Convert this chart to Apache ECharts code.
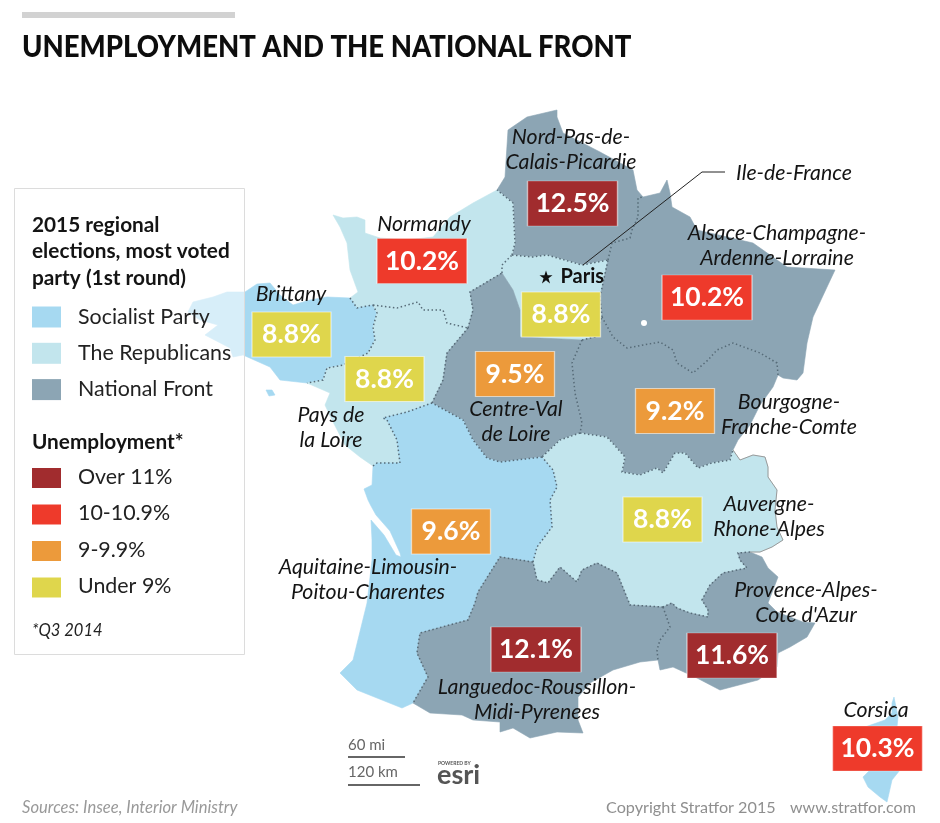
<!DOCTYPE html>
<html><head><meta charset="utf-8">
<style>html,body{margin:0;padding:0;background:#fff}#c{width:940px;height:823px}</style>
<script src="https://cdn.jsdelivr.net/npm/echarts@6/dist/echarts.min.js"></script>
</head><body><div id="c"></div>
<script>
// ---- data ----
const chartTitle = 'UNEMPLOYMENT AND THE NATIONAL FRONT';
const regionNames = ['Nord-Pas-de-Calais-Picardie','Normandy','Brittany','Pays de la Loire','Ile-de-France','Centre-Val de Loire','Alsace-Champagne-Ardenne-Lorraine','Bourgogne-Franche-Comte','Auvergne-Rhone-Alpes','Aquitaine-Limousin-Poitou-Charentes','Languedoc-Roussillon-Midi-Pyrenees','Provence-Alpes-Cote d\'Azur','Corsica'];
const unemployment = [12.5,10.2,8.8,8.8,8.8,9.5,10.2,9.2,8.8,9.6,12.1,11.6,10.3];
const winningParty = ['National Front','The Republicans','Socialist Party','The Republicans','The Republicans','National Front','National Front','National Front','The Republicans','Socialist Party','National Front','National Front','Socialist Party'];
const partyNames = ['Socialist Party','The Republicans','National Front'];
const partyColors = ['#a6d9f1','#c2e5ed','#8ca5b4'];
const bandNames = ['Over 11%','10-10.9%','9-9.9%','Under 9%'];
const bandColors = ['#a12c2e','#ee3a2b','#ec9a3b','#dfd64c'];
const regionLabelLines = ['Nord-Pas-de-\nCalais-Picardie','Normandy','Brittany','Pays de\nla Loire','Ile-de-France','Centre-Val\nde Loire','Alsace-Champagne-\nArdenne-Lorraine','Bourgogne-\nFranche-Comte','Auvergne-\nRhone-Alpes','Aquitaine-Limousin-\nPoitou-Charentes','Languedoc-Roussillon-\nMidi-Pyrenees','Provence-Alpes-\nCote d\'Azur','Corsica'];

// ---- map geometry (map-plane coordinates) ----
const rev = a => a.slice().reverse();
const normCoast=[[497,190],[473,203],[450,217],[433,237],[407,240],[380,238],[365,233],[365,220],[357,217],[343,218],[333,215],[340,227],[347,243],[350,270],[358,292],[350,298]];
const britNorm=[[350,298],[357,308],[373,305]];
const normPdl=[[373,305],[397,308],[418,302],[423,310],[443,310],[447,323],[468,328]];
const normCentre=[[468,328],[473,310],[470,292],[502,273]];
const normIdf=[[502,273],[502,265],[512,255]];
const normNord=[[512,255],[515,243],[513,203],[497,190]];
const britPdl=[[373,305],[377,313],[373,327],[375,340],[368,353],[343,365],[327,368],[323,380],[307,383]];
const britCoast=[[307,383],[280,380],[270,367],[243,355],[233,357],[230,348],[205,335],[218,325],[200,320],[188,312],[193,302],[213,297],[227,292],[245,292],[257,284],[270,283],[280,295],[293,305],[310,300],[327,297],[350,298]];
const belleIle=[[266,390],[272,390],[275,395],[269,396]];
const nordIdf=[[512,255],[533,257],[547,255],[582,265],[608,260]];
const nordAlsace=[[608,260],[612,243],[630,238],[632,230],[638,217],[638,198],[643,197]];
const nordCoast=[[643,197],[637,190],[633,170],[600,152],[563,133],[557,117],[557,110],[527,117],[508,130],[505,177],[497,190]];
const alsaceCoast=[[643,197],[660,193],[667,180],[670,193],[672,207],[690,217],[697,230],[753,243],[787,267],[835,270],[827,287],[813,317],[807,343],[803,373],[797,380],[783,378],[778,375]];
const alsaceBourg=[[778,375],[777,363],[760,353],[733,343],[717,350],[708,360],[693,373],[677,363],[673,350],[660,342],[627,348],[613,337],[602,317]];
const alsaceIdf=[[602,317],[600,297],[608,260]];
const idfCentre=[[502,273],[513,290],[520,310],[520,337],[582,340]];
const idfBourg=[[582,340],[595,337],[602,317]];
const centreBourg=[[582,340],[572,363],[575,393],[582,423],[580,433]];
const centreAuv=[[580,433],[560,440],[542,457]];
const centreAq=[[542,457],[500,462],[487,458],[473,440],[463,420],[432,403]];
const centrePdl=[[432,403],[443,380],[447,353],[468,328]];
const bourgAuv=[[580,433],[607,437],[625,457],[622,472],[640,475],[657,468],[663,473],[675,453],[685,453],[698,468],[712,463],[730,460],[733,450]];
const bourgCoast=[[733,450],[738,440],[750,425],[760,405],[773,387],[778,375]];
const auvCoast=[[733,450],[740,460],[753,455],[765,457],[768,467],[768,477],[777,490],[775,510],[777,527],[783,540],[772,547],[760,552],[750,552]];
const auvPaca=[[750,552],[738,553],[740,560],[747,568],[723,573],[710,585],[702,600],[708,610],[708,617],[690,613],[677,608],[672,603],[663,607]];
const auvLang=[[663,607],[630,605],[617,573],[597,563],[582,570],[577,582],[560,567],[548,583],[537,580],[533,562]];
const auvAq=[[533,562],[537,547],[552,527],[550,500],[557,487],[553,470],[542,457]];
const langAq=[[533,562],[500,557],[478,592],[475,603],[468,620],[420,633],[417,653],[428,677],[413,703]];
const langPaca=[[663,607],[670,627],[660,640],[657,650],[658,660]];
const langCoast=[[658,660],[640,662],[613,670],[590,683],[578,697],[578,720],[583,733],[557,732],[530,738],[513,728],[500,732],[500,722],[473,720],[462,715],[430,713],[413,703]];
const pacaCoast=[[750,552],[762,557],[768,568],[778,577],[768,603],[777,612],[803,622],[815,623],[807,637],[790,647],[778,653],[777,667],[758,680],[720,690],[697,678],[673,667],[660,670],[658,660]];
const aqPdl=[[373,466],[377,463],[400,463],[397,440],[387,420],[383,418],[407,412],[432,403]];
const aqCoast=[[413,703],[402,708],[357,690],[340,673],[353,660],[367,603],[372,560],[372,540],[371,520],[384,535],[396,555],[401,557],[400,553],[390,531],[376,515],[371,506],[368,500],[364,489],[372,485],[373,466]];
const pdlCoast=[[373,466],[360,457],[345,445],[332,420],[325,405],[330,393],[307,383]];
const corsicaOutline=[[894,697],[898,717],[897,727],[900,770],[892,780],[887,802],[880,797],[868,787],[863,777],[870,770],[865,727],[885,720],[892,713],[892,703]];
const ring = (...parts) => { const r = [].concat(...parts); r.push(r[0]); return r; };
const regionRings = [
  [ring(nordCoast,rev(normNord),nordIdf,nordAlsace)],
  [ring(normCoast,britNorm,normPdl,normCentre,normIdf,normNord)],
  [ring(britCoast,britNorm,britPdl)],
  [ring(normPdl,rev(centrePdl),rev(aqPdl),pdlCoast,rev(britPdl))],
  [ring(normIdf,nordIdf,rev(alsaceIdf),rev(idfBourg),rev(idfCentre))],
  [ring(normCentre,idfCentre,centreBourg,centreAuv,centreAq,centrePdl)],
  [ring(alsaceCoast,alsaceBourg,alsaceIdf,rev(nordAlsace))],
  [ring(centreBourg,bourgAuv,bourgCoast,alsaceBourg,rev(idfBourg))],
  [ring(rev(bourgAuv),centreAuv,rev(auvAq),rev(auvLang),rev(auvPaca),rev(auvCoast))],
  [ring(rev(centreAq),rev(auvAq),langAq,aqCoast,aqPdl)],
  [ring(rev(auvLang),langPaca,langCoast,rev(langAq))],
  [ring(pacaCoast,rev(langPaca),rev(auvPaca))],
  [ring(corsicaOutline)]
];
const innerBorders = [britNorm,normPdl,normCentre,normIdf,britPdl,nordIdf,nordAlsace,alsaceBourg,alsaceIdf,idfBourg,centreBourg,centrePdl,aqPdl,centreAq,centreAuv,bourgAuv,auvAq,auvLang,auvPaca,langAq,langPaca,normNord];
const coastlines = [auvCoast];
// label anchors on the map plane
const boxAnchors = [[572.5,203.5],[422,261],[291.5,334.5],[384.5,379],[561,314.5],[515,374],[707,297.5],[675,411],[662.5,519.5],[451,531.5],[536,649.5],[732,655.5],[877.5,748.5]];
const labelAnchors = [[571,150],[424,224],[291,294],[331,428],[794,173],[516,422],[777,246],[789,415],[769,517],[368,580],[537,700],[806,603],[876,710]];
const leaderLine = [[583,265],[702,172],[725,172]];
const paris = [546,277];
const lakeDer = [644,323];

const bandOf = v => v >= 11 ? 0 : v >= 10 ? 1 : v >= 9 ? 2 : 3;
const FONT = 'Lato, "Open Sans", sans-serif';
const INK = '#141414';

echarts.registerMap('france', {
  type:'FeatureCollection',
  features: regionNames.map((n,i)=>({type:'Feature',properties:{name:n},
    geometry:{type:'Polygon',coordinates:regionRings[i]}}))
    .concat([{type:'Feature',properties:{name:'Belle-Ile'},geometry:{type:'Polygon',coordinates:[ring(belleIle)]}}])
});

// legend graphics
const g = [];
g.push({type:'rect',z:1,shape:{x:14.5,y:188.5,width:230,height:466},style:{fill:'rgba(255,255,255,0.55)',stroke:'#dcdcdc',lineWidth:1}});
g.push({type:'rect',z:5,shape:{x:22,y:12,width:213,height:6},style:{fill:'#d2d2d2'}});
const txt=(x,y,t,o={},extra={})=>g.push(Object.assign({type:'text',z:5,x,y,style:Object.assign({text:t,fill:INK,font:'21.4px '+FONT,textVerticalAlign:'middle',textBaseline:'middle'},o)},extra));
txt(22,47,chartTitle,{font:'900 30px '+FONT,fill:'#0d0d0d'},{scaleX:0.917});
['2015 regional','elections, most voted','party (1st round)'].forEach((t,i)=>txt(32,225+i*26.5,t,{font:'bold 20.8px '+FONT}));
partyNames.forEach((p,i)=>{const y=317+i*36.3;
  g.push({type:'rect',z:5,shape:{x:32,y:y-10.5,width:29,height:21},style:{fill:partyColors[i]}});
  txt(78,y,p,{fill:'#222'});});
txt(32,442,'Unemployment*',{font:'bold 20.8px '+FONT});
bandNames.forEach((b,i)=>{const y=478+i*36.5;
  g.push({type:'rect',z:5,shape:{x:32,y:y-10,width:29,height:20},style:{fill:bandColors[i]}});
  txt(78,y-1,b,{fill:'#222'});});
txt(32,631,'*Q3 2014',{font:'italic 16.5px '+FONT,fill:'#222'});
// scale bar, logo, footer
txt(348,745,'60 mi',{font:'15px '+FONT,fill:'#666'});
g.push({type:'rect',z:5,shape:{x:348,y:756,width:57,height:2},style:{fill:'#666'}});
txt(348,772,'120 km',{font:'15px '+FONT,fill:'#666'});
g.push({type:'rect',z:5,shape:{x:348,y:784,width:72,height:2},style:{fill:'#666'}});
txt(438,763,'POWERED BY',{font:'bold 5px '+FONT,fill:'#555'});
txt(437,775,'esri',{font:'bold 27px '+FONT,fill:'#555'});
txt(22,808,'Sources: Insee, Interior Ministry',{font:'italic 16.6px '+FONT,fill:'#999'});
txt(606,808,'Copyright Stratfor 2015',{font:'16.2px '+FONT,fill:'#8f8f8f'});
txt(790,808,'www.stratfor.com',{font:'16px '+FONT,fill:'#8f8f8f'});

const chart = echarts.init(document.getElementById('c'),null,{renderer:'canvas'});
chart.setOption({
  animation:false,
  backgroundColor:'#fff',
  geo:{map:'france',silent:true,left:0,top:0,width:940,height:823,roam:false,
    projection:{project:p=>[p[0],p[1]],unproject:p=>[p[0],p[1]]},
    boundingCoords:[[0,0],[940,823]],
    label:{show:false},
    itemStyle:{areaColor:partyColors[0],borderColor:partyColors[0],borderWidth:0.6},
    emphasis:{disabled:true},select:{disabled:true},
    regions:regionNames.map((n,i)=>{const c=partyColors[partyNames.indexOf(winningParty[i])];
      return {name:n,itemStyle:{areaColor:c,borderColor:c,borderWidth:0.6}};})
  },
  graphic:g,
  series:[
    {type:'lines',coordinateSystem:'geo',polyline:true,silent:true,z:3,
     lineStyle:{color:'#566b78',width:1.5,type:[1.5,2.5],opacity:1},
     data:innerBorders.map(b=>({coords:b}))},
    {type:'lines',coordinateSystem:'geo',polyline:true,silent:true,z:3,
     lineStyle:{color:'#9a9a9a',width:1,opacity:1},
     data:coastlines.map(b=>({coords:b}))},
    {type:'lines',coordinateSystem:'geo',polyline:true,silent:true,z:4,
     lineStyle:{color:'#222',width:1,opacity:1},
     data:[{coords:leaderLine}]},
    {type:'scatter',coordinateSystem:'geo',silent:true,z:5,symbol:'circle',symbolSize:6,
     itemStyle:{color:'#fff',opacity:1},data:[lakeDer]},
    {type:'scatter',name:'Unemployment',coordinateSystem:'geo',silent:true,z:6,symbol:'rect',
     data:regionNames.map((n,i)=>({name:n,value:[...boxAnchors[i],unemployment[i]],
       symbolSize:[unemployment[i]>=10?90:79,45],
       itemStyle:{color:bandColors[bandOf(unemployment[i])],borderColor:'rgba(255,255,255,0.55)',borderWidth:1,opacity:1},
       label:{show:true,position:'inside',formatter:unemployment[i].toFixed(1)+'%',
         color:'#fff',fontFamily:FONT,fontSize:26.5,fontWeight:'bold'}}))},
    {type:'scatter',name:'Regions',coordinateSystem:'geo',silent:true,z:7,symbolSize:0,
     itemStyle:{opacity:1},
     data:regionLabelLines.map((t,i)=>({name:regionNames[i],value:labelAnchors[i],
       label:{show:true,position:'inside',formatter:t,color:INK,fontFamily:FONT,fontStyle:'italic',
         fontSize:21.3,lineHeight:25,align:'center',verticalAlign:'middle'}}))},
    {type:'scatter',name:'Paris',coordinateSystem:'geo',silent:true,z:7,
     symbol:'path://M50 0 L62 35 L100 35 L69 57 L81 95 L50 72 L19 95 L31 57 L0 35 L38 35 Z',symbolSize:13,
     itemStyle:{color:'#111',opacity:1},
     data:[{name:'Paris',value:paris,label:{show:true,position:'right',distance:8,formatter:'Paris',
       color:'#111',fontFamily:FONT,fontWeight:'bold',fontSize:20}}]}
  ]
});
</script></body></html>
